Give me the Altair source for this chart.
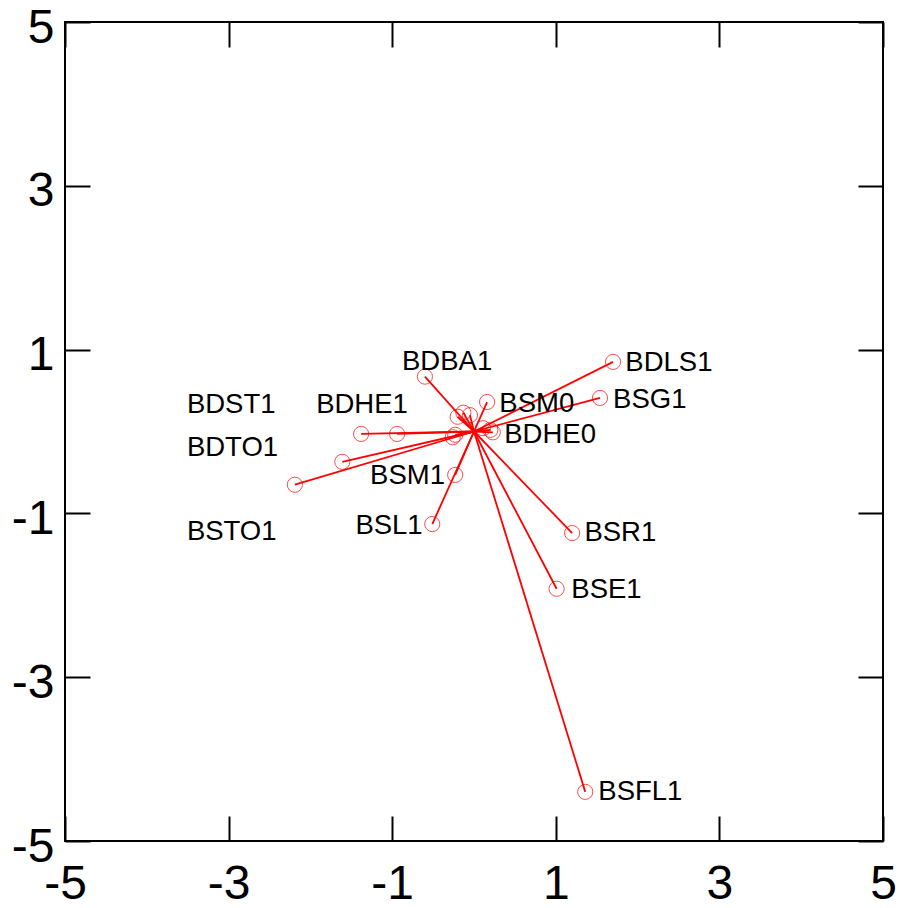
import altair as alt
import pandas as pd

# Vector end points (circles); every vector starts at the origin
vec_x = [1.70, 1.54, 0.16, -0.60, -1.38, -0.94, -1.61, -2.19, -0.23, -0.51,
         1.20, 1.01, 1.36, -0.13, -0.20, -0.05, -0.23, -0.26, 0.11, 0.20, 0.23]
vec_y = [0.85, 0.41, 0.36, 0.67, -0.03, -0.03, -0.37, -0.65, -0.53, -1.13,
         -1.24, -1.92, -4.40, 0.23, 0.18, 0.20, -0.04, -0.07, 0.04, 0.02, -0.01]

# Text labels and their anchor positions (left edge, vertical middle)
label_text = ["BDLS1", "BSG1", "BSM0", "BDHE0", "BDBA1", "BDHE1", "BDST1",
              "BDTO1", "BSM1", "BSTO1", "BSL1", "BSR1", "BSE1", "BSFL1"]
label_x = [1.85, 1.70, 0.31, 0.37, -0.88, -1.93, -3.51,
           -3.51, -1.27, -3.51, -1.45, 1.35, 1.19, 1.52]
label_y = [0.84, 0.38, 0.34, -0.04, 0.85, 0.32, 0.32,
           -0.20, -0.54, -1.23, -1.15, -1.24, -1.94, -4.40]

tick_values = [-5, -3, -1, 1, 3, 5]

vec_df = pd.DataFrame({"x": vec_x, "y": vec_y})
vec_df["ox"] = 0.0
vec_df["oy"] = 0.0
lab_df = pd.DataFrame({"x": label_x, "y": label_y, "t": label_text})

FONT = "Liberation Sans"
xs = alt.Scale(domain=[-5, 5], nice=False, zero=False)
ys = alt.Scale(domain=[-5, 5], nice=False, zero=False)


def axis(orient, labels=True):
    opts = dict(orient=orient, values=tick_values, offset=-25, tickSize=25,
                tickWidth=2, tickColor="black", domain=False, grid=False,
                title=None, labels=labels, labelFont=FONT, labelFontSize=48,
                labelColor="black", labelFlush=False, labelOverlap=False,
                labelExpr="'' + datum.value")
    if orient == "bottom":
        opts["labelPadding"] = 19
    if orient == "left":
        opts["labelPadding"] = 11
        opts["labelOffset"] = 6
    return alt.Axis(**opts)


rules = alt.Chart(vec_df).mark_rule(color="#ff0000", strokeWidth=1.8).encode(
    x=alt.X("ox:Q", scale=xs, axis=axis("bottom")),
    y=alt.Y("oy:Q", scale=ys, axis=axis("left")),
    x2="x:Q",
    y2="y:Q",
)

points = alt.Chart(vec_df).mark_point(
    shape="circle", filled=False, color="#ff0000", size=230, strokeWidth=1
).encode(
    x=alt.X("x:Q", scale=xs, axis=axis("top", labels=False)),
    y=alt.Y("y:Q", scale=ys, axis=axis("right", labels=False)),
)

texts = alt.Chart(lab_df).mark_text(
    align="left", baseline="middle", font=FONT, fontSize=27.5, color="black"
).encode(
    x=alt.X("x:Q", scale=xs, axis=None),
    y=alt.Y("y:Q", scale=ys, axis=None),
    text="t:N",
)

chart = alt.layer(rules, points, texts).properties(
    width=818,
    height=819,
    autosize="none",
    background="white",
    padding={"left": 65, "top": 22, "right": 17, "bottom": 67},
).configure_view(
    stroke="black", strokeWidth=2
)

chart.save("out.html", embed_options={"renderer": "svg", "actions": False})
